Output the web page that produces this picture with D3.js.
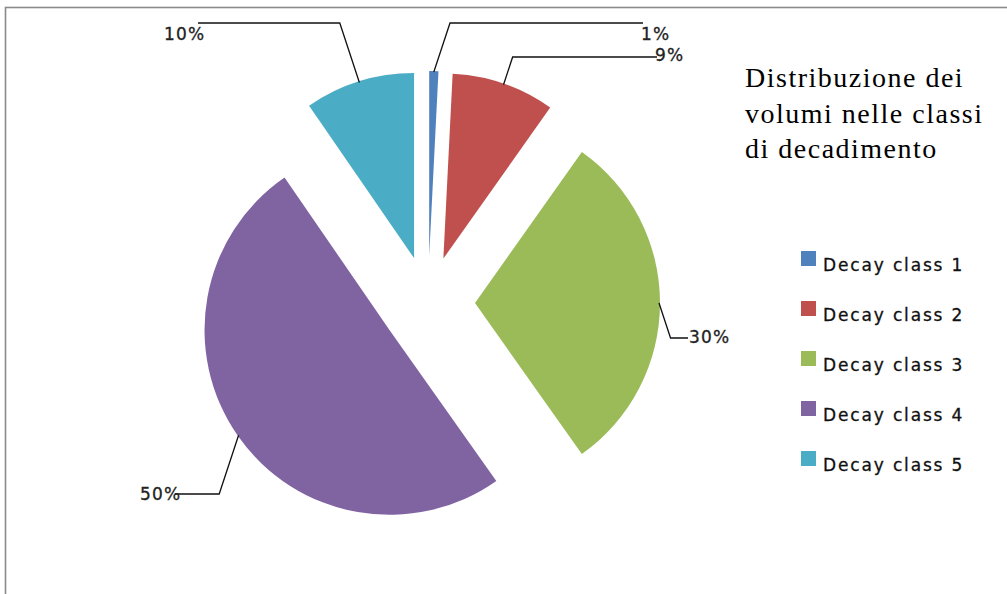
<!DOCTYPE html>
<html><head><meta charset="utf-8">
<script src="https://cdn.jsdelivr.net/npm/d3@7"></script>
<style>body{margin:0;background:#fff}svg{display:block}</style>
</head><body>
<svg id="c" width="1007" height="594"></svg>
<script>
// ---- data ----
const categories = ["Decay class 1","Decay class 2","Decay class 3","Decay class 4","Decay class 5"];
const values = [0.8, 9.0, 30.4, 50.2, 9.6];
const titleLines = ["Distribuzione dei","volumi nelle classi","di decadimento"];
const colors = ["#4F81BD","#C0504D","#9BBB59","#8064A2","#4BACC6"];

// ---- layout ----
const W = 1007, H = 594;
const cx = 428, cy = 303, R = 185, explode = 47;
const lineEnd = [[643,23],[657,57],[688,338],[175,494],[198,23]];
const labelAt = [[641,34],[655,55],[689,337],[140,494],[164,34]];

const svg = d3.select("#c");
svg.append("rect").attr("width",W).attr("height",H).attr("fill","#fff");
svg.append("rect").attr("x",5.5).attr("y",7.5).attr("width",W+20).attr("height",H+20)
  .attr("fill","none").attr("stroke","#8a8a8a").attr("stroke-width",1.6);

const pie = d3.pie().sort(null).value(d=>d)(values);
const arc = d3.arc().innerRadius(0).outerRadius(R);
const g = svg.append("g").attr("transform",`translate(${cx},${cy})`);

pie.forEach((p,i)=>{
  const mid = (p.startAngle+p.endAngle)/2;
  const ox = Math.sin(mid)*explode, oy = -Math.cos(mid)*explode;
  g.append("path").attr("d",arc(p)).attr("fill",colors[i])
    .attr("transform",`translate(${ox},${oy})`);
  // leader
  const sx = cx+ox+Math.sin(mid)*(R-1), sy = cy+oy-Math.cos(mid)*(R-1);
  const [ex,ey] = lineEnd[i];
  const side = ex > sx ? 1 : -1;
  const kx = sx + side*Math.abs(ey-sy)*0.33;
  svg.append("path").attr("d",`M${sx},${sy}L${kx},${ey}L${ex},${ey}`)
    .attr("fill","none").attr("stroke","#111").attr("stroke-width",1.3);
  const pct = Math.round(p.value/d3.sum(values)*100)+"%";
  svg.append("text").attr("x",labelAt[i][0]).attr("y",labelAt[i][1])
    .attr("dominant-baseline","central")
    .attr("font-family","DejaVu Sans, Verdana, sans-serif").attr("font-size",17)
    .attr("letter-spacing",1.2).attr("fill","#222").attr("stroke","#222").attr("stroke-width",0.3)
    .text(pct);
});

// title
svg.append("g").selectAll("text").data(titleLines).join("text")
  .attr("x",745).attr("y",(d,i)=>87+i*35.5)
  .attr("font-family","Liberation Serif, Times New Roman, serif").attr("font-size",28)
  .attr("letter-spacing",1.5).attr("fill","#000").text(d=>d);

// legend
const lg = svg.append("g");
categories.forEach((c,i)=>{
  const yc = 258.5 + i*50;
  lg.append("rect").attr("x",801).attr("y",yc-7.5).attr("width",15).attr("height",15).attr("fill",colors[i]);
  lg.append("text").attr("x",823).attr("y",yc+12)
    .attr("font-family","DejaVu Sans, Verdana, sans-serif").attr("font-size",17)
    .attr("letter-spacing",1.85).attr("fill","#111").attr("stroke","#111").attr("stroke-width",0.3)
    .text(c);
});
</script>
</body></html>
